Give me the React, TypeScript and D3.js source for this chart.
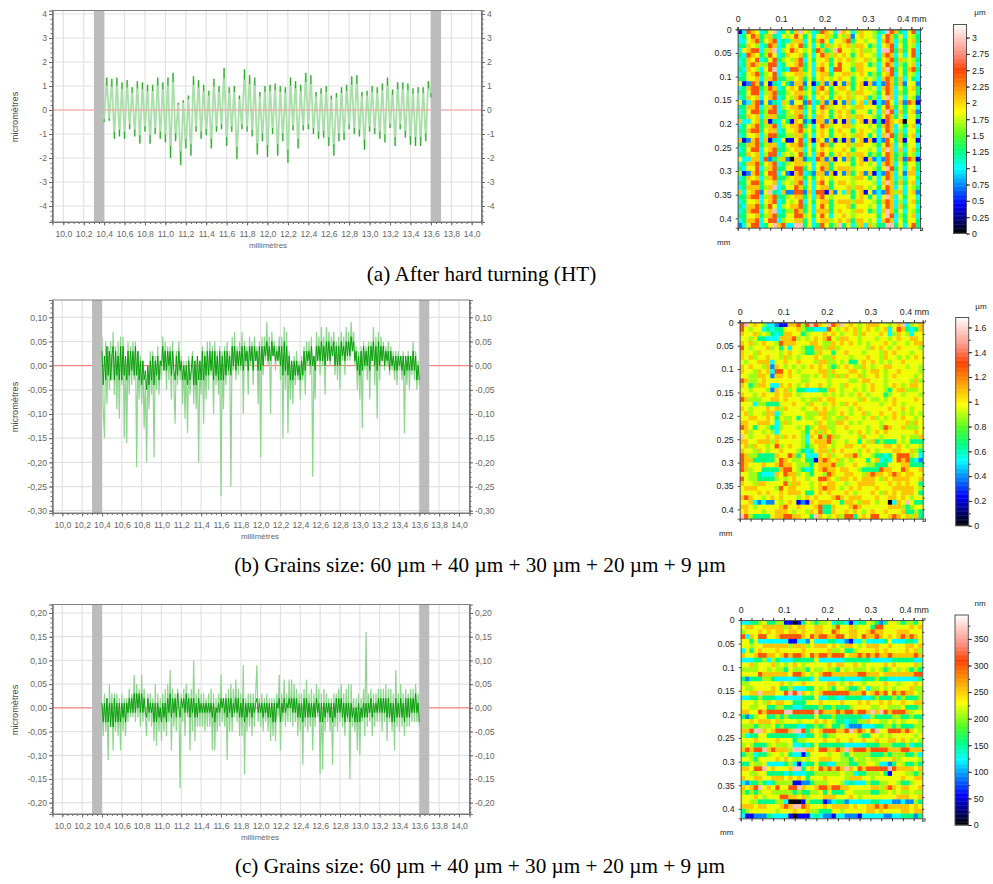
import { useEffect, useRef } from 'react';
import * as d3 from 'd3';

// profile (a): alternating crests and valleys, micrometres, one every 0.025 mm from 10.4 mm
const profileA = [
  -0.5, 1.35, -0.45, 1.3, -1.2, 1.35, -1.1, 1.15, -1.2, 1.25, -0.8, 0.95, -1.1, 1.2, -1.4, 1.15,
  -0.9, 1.05, -1.4, 1.05, -1.0, 1.35, -1.2, 1.15, -1.35, 1.35, -2.0, 1.55, -1.3, 0.3, -2.3, 0.4,
  -1.6, 0.6, -1.9, 1.4, -0.9, 1.25, -1.2, 1.05, -1.05, 0.8, -1.6, 1.3, -0.9, 1.0, -0.8, 1.75,
  -1.5, 0.95, -0.9, 1.0, -2.05, 0.6, -0.8, 1.7, -0.9, 1.45, -1.1, 1.35, -1.85, 0.75, -1.3, 1.0,
  -1.95, 1.05, -1.0, 1.1, -1.9, 1.0, -1.3, 0.95, -2.2, 1.35, -0.85, 1.2, -1.6, 1.05, -0.85, 1.55,
  -0.8, 1.45, -1.0, 0.75, -1.2, 0.9, -1.15, 1.0, -1.5, 0.6, -1.9, 0.7, -1.3, 0.95, -1.25, 1.05,
  -0.8, 1.4, -1.0, 1.45, -1.1, 0.75, -1.65, 0.8, -0.9, 1.0, -1.0, 0.95, -1.2, 1.1, -1.35, 1.35,
  -0.75, 0.85, -1.5, 1.15, -0.8, 1.15, -1.15, 1.1, -1.45, 0.9, -1.5, 0.95, -1.5, 0.95, -1.3, 1.2, 0.7,
];

// profile (b): hundredths of a micrometre, one every 0.0125 mm from 10.4 mm
const profileB = [
  6, -9, -15, 5, -8, 4, -5, 5, -3, 7, -6, 4, -9, 5, -11, 6,
  -4, 6, -15, 2, -16, 5, -6, 4, -4, 5, -3, 5, -21, 3, -7, 2,
  -8, 1, -13, -3, -20, 0, -9, 3, -6, 3, -19, 2, -5, 4, -6, 1,
  -3, 6, -1, 5, -5, 4, -3, 4, -7, 5, -4, -12, 3, -4, 5, -3,
  2, -8, 1, -11, 1, -14, 2, -6, -2, 3, -8, 1, -9, 2, -20, 1,
  -6, 4, -12, 3, -7, 5, -5, 5, -2, 4, -10, 5, -4, 3, -6, 4,
  -27, 3, -9, 4, -4, 5, -2, 3, -25, 6, -1, 7, -3, 4, -2, 5,
  -1, 7, -10, 5, 0, 4, -6, 6, 0, 5, -4, 6, 1, 4, -8, 5,
  -19, 6, -2, 6, 1, 9, 0, 6, -10, 7, 2, 5, -1, 4, 1, 6,
  -3, 6, -15, 8, -5, 7, -14, 3, -7, 1, -8, 2, -4, 3, -3, 1,
  -7, 2, -3, 4, -6, 5, 0, 5, -2, 6, -23, 2, -7, 7, 1, 6,
  -2, 8, 0, 6, -6, 8, 1, 7, 0, 6, 2, 7, -2, 5, -3, 6,
  -5, 7, 1, 6, -2, 8, 1, 7, 1, 9, 3, 7, 0, 4, -5, 3,
  -7, 4, -13, 5, -1, 4, -3, 5, -7, 5, 1, 8, -4, 6, -11, 7,
  -3, 6, 1, 5, -1, 4, 0, 5, -2, 4, -1, 3, -3, 3, -4, 3,
  -1, 2, -3, 3, -14, 2, -4, 3, -5, 2, -2, 5, -3, 3, -5, 1, -4,
];
const coreB = [
  3, -4, 2, -3, 4, -2, 3, -3, 2, 4, -3, 3, -2, 2, -3, 4,
  -3, 4, -2, 2, -3, 3, -2, 3, -1, 3, -2, 4, -2, 3, -3, 1,
  -4, 1, -3, -1, -5, 0, -4, 1, -3, 2, -4, 1, -2, 2, -3, 1,
  0, 4, -1, 3, -1, 3, 0, 3, -2, 3, -1, -3, 2, -2, 3, -1,
  1, -3, 0, -3, 0, -4, 1, -3, -1, 2, -4, 1, -4, 2, -3, 1,
  -3, 3, -3, 2, -2, 3, -2, 3, -1, 3, -3, 3, -2, 2, -3, 3,
  -3, 2, -3, 3, -2, 3, -1, 2, -2, 4, 0, 4, -1, 3, 0, 3,
  0, 4, -1, 4, 1, 3, -1, 4, 1, 4, -1, 4, 1, 3, -1, 4,
  -1, 4, 0, 4, 2, 5, 1, 4, 1, 5, 2, 4, 1, 3, 1, 4,
  0, 4, -2, 5, -1, 4, -2, 2, -3, 1, -3, 1, -2, 1, -2, 0,
  -3, 1, -2, 3, -1, 3, 1, 3, 0, 4, 0, 2, -1, 4, 1, 4,
  1, 5, 1, 4, 0, 5, 1, 5, 1, 4, 2, 5, 0, 4, 0, 4,
  0, 5, 2, 4, 1, 5, 2, 5, 2, 6, 3, 5, 1, 3, -1, 2,
  -2, 3, -1, 4, 0, 3, 0, 4, -1, 4, 1, 5, 0, 4, -1, 5,
  0, 4, 1, 4, 0, 3, 1, 3, -1, 3, 0, 2, -1, 2, -1, 2,
  0, 2, -1, 2, -2, 2, -1, 2, -1, 2, -1, 3, -1, 2, -3, 0, -3,
];

// profile (c): same sampling as (b)
const profileC = [
  1, -6, 3, -5, 2, -11, 5, -3, 3, -9, 3, -5, 3, -6, 2, -9,
  3, -5, 2, -6, 2, -3, 4, -2, 3, -2, 7, -3, 5, -2, 4, -4,
  7, -3, 4, -2, -6, 3, -3, 3, -4, 2, -7, 5, -8, 3, -5, 2,
  -7, 3, -5, 4, -6, 5, -3, 8, -9, 4, -4, 3, -5, 4, 2, -17,
  3, -3, 4, -6, 5, -2, 3, -9, 4, -5, 10, -7, 3, -4, 4, -4,
  3, -4, 3, -5, 2, -4, 3, -4, 4, -9, 3, -9, 2, -5, 3, -4,
  7, -3, 2, -4, 3, -11, 4, -5, 5, -5, 4, -2, 6, -3, 4, -6,
  3, -6, 9, -14, 2, -5, 3, -4, 3, -6, 3, -4, 3, 9, -3, 2,
  -4, 3, -5, 2, -3, 3, -5, 2, -7, 2, -6, 2, -7, 3, -2, 7,
  -9, 3, -3, 6, -4, 3, -3, 6, -3, 6, -4, 5, -3, 4, -6, 3,
  -5, 3, -12, 4, -4, 6, -5, 3, -4, 4, -9, 3, -4, 5, -2, 4,
  -14, 3, -13, 4, -5, 3, -3, 2, -5, 2, -12, 3, -4, 3, -5, 4,
  -3, 5, -4, 3, -6, 4, -3, 5, -15, 5, -4, 2, -5, 2, -9, 3,
  -10, 2, -3, 4, -6, 16, -4, 3, -3, 4, -6, 3, -4, 3, -3, 4,
  -3, 4, -5, 4, -3, 5, -7, 4, -3, 4, -5, 3, -9, 8, -4, 3,
  -5, 5, -4, 3, -6, 4, -4, 3, -4, 4, -3, 4, -3, 5, -3, 3, -4,
];
const coreC = [
  1, -3, 1, -3, 2, -3, 1, -4, 1, -4, 2, -3, 1, -3, 1, -3,
  1, -2, 1, -3, 1, -1, 2, -1, 2, -1, 3, -1, 3, 0, 3, -1,
  3, -1, 2, -1, -2, 2, -1, 1, -1, 1, -3, 1, -3, 1, -2, 0,
  -3, 1, -2, 1, -3, 2, -1, 3, -2, 2, -1, 2, -2, 3, 0, -2,
  2, 0, 2, -1, 3, -1, 2, -2, 2, -1, 2, -2, 1, -2, 2, -1,
  1, -1, 1, -1, 1, -1, 1, -1, 1, -2, 1, -3, 0, -1, 1, -1,
  2, 0, 2, -1, 2, -2, 2, -1, 2, -2, 1, -1, 2, -1, 2, -2,
  1, -2, 2, -3, 1, -2, 1, -1, 1, -2, 1, -1, 1, 2, -1, 1,
  -1, 1, -2, 1, -1, 1, -2, 1, -2, 1, -3, 1, -3, 1, 0, 2,
  -3, 1, -1, 2, -1, 1, 0, 2, 0, 2, -1, 2, -1, 2, -2, 1,
  -2, 1, -3, 2, -2, 2, -2, 1, -2, 1, -2, 1, -2, 2, -1, 1,
  -3, 1, -3, 1, -2, 1, -1, 1, -2, 1, -3, 1, -2, 2, -1, 2,
  -1, 2, -2, 1, -3, 1, -2, 1, -3, 1, -2, 0, -3, 0, -3, 1,
  -3, 0, -2, 1, -2, 1, -2, 1, -1, 2, -2, 1, -1, 1, -1, 2,
  -1, 2, -1, 2, -1, 2, -2, 2, -2, 1, -3, 1, -3, 2, -2, 1,
  -2, 2, -2, 1, -3, 2, -2, 2, -2, 2, -1, 2, -1, 3, -1, 1, -3,
];

// maps, one digit per cell: index into cellLevels (share of the colour bar)
const cellLevels = [0.01, 0.14, 0.23, 0.31, 0.39, 0.52, 0.57, 0.64, 0.76, 0.92];

const mapA = [
  '138763 469346 479653 487639 763576 654398 743683',
  '346874 574365 686463 667546 572676 653687 463654',
  '336784 678343 577364 786366 784665 663787 354674',
  '447653 487346 768463 647567 675776 453678 364653',
  '367883 579356 876564 874598 665675 563998 474683',
  '438764 586347 667463 687576 764676 653787 363683',
  '347683 468456 578364 667467 675667 564678 475654',
  '347875 588346 678463 676468 665776 453687 354673',
  '437653 689343 887463 786388 664776 663798 464784',
  '346784 568356 677563 677466 775676 454678 364653',
  '446673 578445 567464 676567 664665 653787 473643',
  '612872 614364 277261 472716 274671 723287 472662',
  '347884 587346 768463 786467 764676 563787 364674',
  '446883 578445 677564 767456 675776 654687 354664',
  '347673 678346 578463 676467 675667 453697 363652',
  '623782 624375 266283 472716 273673 713286 372871',
  '447783 578356 778463 687566 765776 664687 464663',
  '346884 588345 677364 676467 674666 463798 374672',
  '447673 577445 578463 776467 675776 654687 463664',
  '733674 714364 176241 772716 173671 714187 670661',
  '346784 578356 778463 687566 775666 564787 364673',
  '447884 677346 678564 676467 664676 653687 353664',
  '346673 588445 577463 676466 765776 463798 474673',
  '712783 714361 168371 762715 172671 713286 471661',
  '447784 577346 778463 687466 675776 654687 364663',
  '346883 678445 677364 676566 764666 563797 373674',
  '447673 588356 568463 786467 675776 454687 454653',
  '633773 824572 077243 872716 274671 723287 472871',
  '347784 678345 677563 677466 664676 563787 364664',
  '436683 578446 688463 687467 775666 654698 463674',
  '512784 688362 178342 772716 274672 713287 362773',
  '347673 578445 677464 676566 665776 463687 353664',
  '446884 667356 578363 786467 765666 653797 474673',
  '347774 579346 687463 677466 675776 564687 363654',
  '736782 694372 288273 881726 374671 623287 573672',
  '447883 578445 677463 786566 664676 463697 364663',
  '346673 678346 568364 677467 775776 654787 353674',
  '437784 586356 778463 686466 674666 563687 374663',
  '347883 679345 587463 777467 665776 453797 463654',
  '446674 578446 688564 686366 765666 664698 354673',
  '347783 688356 677463 677567 674776 563787 364664',
  '236883 469783 399463 486459 463573 754499 463684',
];

const mapB = [
  '896765 332117 785898 769879 676567 776656 793567',
  '865663 434466 675443 338656 767567 656736 874347',
  '766756 543477 664566 676765 667576 667635 765366',
  '665644 333777 856567 678657 766566 656656 766776',
  '767567 665877 766677 655767 676565 666765 665677',
  '865666 756463 665447 757756 666665 767656 766665',
  '766576 666567 665445 766466 766656 665767 666566',
  '767566 766575 656667 655766 656667 665766 565676',
  '656677 736676 676665 775565 644676 765656 676666',
  '767665 727656 565676 765456 765576 566776 665665',
  '766576 738867 656666 775766 677656 776566 766665',
  '665577 627767 665565 675575 766756 676567 666656',
  '875567 666666 665566 665666 655677 666566 666575',
  '764577 633767 656766 765665 766656 766567 656776',
  '665666 527675 644333 447765 665656 766546 775556',
  '766567 667677 656666 656565 656765 666456 656665',
  '875556 677676 665655 767766 666576 556567 666676',
  '666355 444666 766576 656765 767666 665667 656666',
  '765666 767576 665667 676566 656766 666676 676566',
  '675665 773566 666555 775567 656675 667667 656565',
  '667766 764655 646556 675655 766656 756567 676656',
  '776677 763575 666665 765577 656566 665666 667576',
  '876466 543566 656456 775566 766665 665876 675556',
  '675665 653666 665467 576566 656765 676766 666676',
  '965666 767576 765376 858756 666576 665666 656557',
  '776677 757666 665367 778566 566465 745444 656444',
  '675766 568567 665456 776566 776676 666776 765665',
  '766576 566766 654346 775767 666567 656667 766754',
  '875544 447668 746333 767566 778566 544346 888563',
  '877444 446876 556441 787675 656664 673436 878432',
  '876667 667877 655546 777855 667665 544466 677444',
  '875664 444788 654346 787767 766544 448776 687667',
  '665543 337687 756546 658766 776657 877678 767766',
  '865544 445656 766566 887657 767677 765767 777667',
  '766577 666685 776656 767766 566777 766676 767664',
  '677766 665867 766656 787765 676766 676667 777765',
  '666676 766767 776446 767666 765666 765767 677764',
  '787665 676766 656767 666787 677766 676677 676566',
  '667323 226567 612176 777664 776577 656603 769644',
  '776566 666786 676667 844766 678766 666677 754566',
  '676665 667776 566576 844766 767656 766766 674454',
  '985444 467788 776649 765675 884676 886678 767574',
];

const mapC = [
  '334456 445511 014654 556344 313446 542466 545546',
  '677667 777757 677667 766586 675666 488666 666767',
  '566676 767767 767667 766876 677667 877666 777666',
  '837688 667888 887687 887788 677687 787676 787876',
  '664633 333331 133263 334433 213353 333463 334436',
  '665667 777775 777567 776765 776567 776676 667767',
  '364676 667666 667666 667556 445666 676766 667675',
  '766788 776787 887687 887888 677878 787787 777787',
  '333445 354333 444446 333333 444444 333334 444433',
  '667566 675656 765666 667677 667656 666767 666675',
  '555566 565546 555465 565546 565556 565456 565454',
  '666687 777776 887656 788777 777887 776777 777788',
  '424445 543333 344436 333334 333344 454433 333334',
  '556666 666765 667666 667765 676656 666766 566676',
  '655666 676445 333446 565466 544563 556565 666755',
  '667797 776689 897656 788888 877786 787868 787765',
  '334454 443333 334446 334433 444433 454445 454445',
  '666565 767766 444666 766667 666767 667676 676677',
  '665566 445544 334444 544544 456666 556655 564445',
  '776687 888899 888889 877787 887887 979878 887566',
  '424566 445454 444446 444544 444433 544445 544544',
  '667677 767566 656667 676544 344557 665565 656665',
  '555455 564544 433445 456445 322233 344554 544455',
  '778997 678887 998476 788877 897876 896688 878765',
  '534466 444444 433446 545566 666544 665656 666656',
  '666766 667666 455666 676676 676676 676677 676565',
  '565444 565556 334346 444444 333334 445554 445344',
  '787889 787775 999776 887787 978887 888877 788777',
  '455344 566564 331466 665665 465555 444545 554453',
  '665466 667676 556566 777665 546556 556667 566665',
  '446556 333345 313446 443355 544556 653324 654454',
  '776889 676667 994676 878787 976878 888898 777767',
  '665566 444434 333445 555556 553445 556416 665545',
  '766776 677767 676466 676666 577766 566666 676677',
  '324454 345555 112245 556665 343335 445566 544566',
  '767896 768668 897667 887887 766666 775787 677667',
  '545456 655555 454455 646444 665555 445565 655655',
  '666765 666887 767566 677766 676566 666666 777667',
  '665544 445530 001544 412344 233333 443332 232254',
  '777677 666787 998766 676777 767667 787877 777676',
  '456666 665666 766755 444665 666667 767666 677677',
  '311222 433331 011134 322133 222133 333223 344424',
];

const xTicks = [10, 10.2, 10.4, 10.6, 10.8, 11, 11.2, 11.4, 11.6, 11.8, 12, 12.2, 12.4, 12.6, 12.8, 13, 13.2, 13.4, 13.6, 13.8, 14];
const yTicksA = [-4, -3, -2, -1, 0, 1, 2, 3, 4];
const yTicksB = [-0.3, -0.25, -0.2, -0.15, -0.1, -0.05, 0, 0.05, 0.1];
const yTicksC = [-0.2, -0.15, -0.1, -0.05, 0, 0.05, 0.1, 0.15, 0.2];
const mapTicksX = [0, 0.1, 0.2, 0.3, 0.4];
const mapTicksY = [0, 0.05, 0.1, 0.15, 0.2, 0.25, 0.3, 0.35, 0.4];
const barTicksA = [0, 0.25, 0.5, 0.75, 1, 1.25, 1.5, 1.75, 2, 2.25, 2.5, 2.75, 3];
const barTicksB = [0, 0.2, 0.4, 0.6, 0.8, 1, 1.2, 1.4, 1.6];
const barTicksC = [0, 50, 100, 150, 200, 250, 300, 350];

const captionA = '(a) After hard turning (HT)';
const captionB = '(b) Grains size: 60 µm + 40 µm + 30 µm + 20 µm + 9 µm';
const captionC = '(c) Grains size: 60 µm + 40 µm + 30 µm + 20 µm + 9 µm';

const colourStops = [0, 0.14, 0.31, 0.39, 0.47, 0.58, 0.68, 0.78, 0.86, 1];
const colourNames = ['#000000', '#0000ff', '#00ffff', '#00ff80', '#50ff20', '#ffff00', '#ffa000', '#ff4000', '#ff9080', '#ffffff'];
const mapColour = d3.scaleLinear<string>().domain(colourStops).range(colourNames);

const SANS = '"Liberation Sans", Arial, sans-serif';
const GREY = '#666';

function drawProfile(root: any, o: any) {
  const x = d3.scaleLinear().domain([10, 14]).range(o.xr);
  const y = d3.scaleLinear().domain(o.yd).range(o.yr);
  const g = root.append('g');

  // plot area bounds in data units, for the fine tick marks
  const x0 = x.invert(o.left), x1 = x.invert(o.right);
  const y0 = y.invert(o.bottom), y1 = y.invert(o.top);

  g.append('g').selectAll('line').data(xTicks).join('line')
    .attr('x1', (d: number) => x(d)).attr('x2', (d: number) => x(d))
    .attr('y1', o.top).attr('y2', o.bottom)
    .attr('stroke', '#e2e2e2').attr('stroke-width', 1.2);
  g.append('g').selectAll('line').data(o.yTicks).join('line')
    .attr('x1', o.left).attr('x2', o.right)
    .attr('y1', (d: number) => y(d)).attr('y2', (d: number) => y(d))
    .attr('stroke', '#e2e2e2').attr('stroke-width', 1.2);

  // excluded end zones
  g.append('g').selectAll('rect').data([10.3, 13.6]).join('rect')
    .attr('x', (d: number) => x(d)).attr('width', (d: number) => x(d + 0.1) - x(d))
    .attr('y', o.top).attr('height', o.bottom - o.top)
    .attr('fill', '#bcbcbc');

  const red = () => g.append('g').selectAll('line')
    .data([[x0, 10.3], [10.4, 13.6], [13.7, x1]]).join('line')
    .attr('x1', (d: number[]) => x(d[0])).attr('x2', (d: number[]) => x(d[1]))
    .attr('y1', y(0)).attr('y2', y(0))
    .attr('stroke', o.redColour).attr('stroke-width', 1);

  if (!o.redOnTop) red();

  const trace = (vals: number[], step: number, k: number) =>
    d3.line<number>().x((_, i) => x(10.4 + i * step)).y(d => y(d * k))(vals);

  const ink = g.append('g').attr('filter', 'url(#soft)');

  ink.append('path').attr('d', trace(o.profile, o.step, o.k))
    .attr('fill', 'none').attr('stroke', o.paleColour).attr('stroke-width', o.paleWidth);

  if (o.core) {
    ink.append('path').attr('d', trace(o.core, o.step, o.k))
      .attr('fill', 'none').attr('stroke', '#009a00').attr('stroke-width', 0.9);
  } else {
    // the pen lingers on crests and valleys, which reads darker
    ink.append('g').selectAll('line').data(o.profile).join('line')
      .attr('x1', (_: number, i: number) => x(10.4 + i * o.step))
      .attr('x2', (_: number, i: number) => x(10.4 + i * o.step))
      .attr('y1', (d: number) => y(d))
      .attr('y2', (d: number) => y(d * 0.75))
      .attr('stroke', '#22a822').attr('stroke-width', 1);
  }

  if (o.redOnTop) red();

  // frame
  g.append('rect')
    .attr('x', o.left).attr('y', o.top).attr('width', o.right - o.left).attr('height', o.bottom - o.top)
    .attr('fill', 'none').attr('stroke', '#808080');

  const fmt = (d: number) => o.digits === 0
    ? d3.format('d')(d).replace('−', '-')
    : d3.format(`.${o.digits}f`)(d).replace('.', ',').replace('−', '-');

  const style = (a: any) => {
    a.select('.domain').attr('stroke', '#777');
    a.selectAll('.tick line').attr('stroke', '#666');
    a.selectAll('.tick text').attr('fill', GREY).attr('font-family', SANS).attr('font-size', 8.6);
    return a;
  };

  const minorX = d3.range(10, 14.03, 0.05).filter(d => d > x0 && d < x1);
  const minorY = d3.range(o.yd[0] - o.minor * 10, o.yd[1] + o.minor * 10, o.minor).filter(d => d > y0 && d < y1);
  const xs = x.copy().domain([x0, x1]).range([o.left, o.right]);
  const ys = y.copy().domain([y0, y1]).range([o.bottom, o.top]);

  const bottomAt = `translate(0,${o.bottom})`;
  g.append('g').attr('transform', bottomAt)
    .call(d3.axisBottom(xs).tickValues(minorX).tickSize(2).tickFormat(() => ''))
    .call(style);
  g.append('g').attr('transform', bottomAt)
    .call(d3.axisBottom(xs).tickValues(xTicks).tickSize(3.5).tickPadding(5).tickFormat((d: any) => d3.format('.1f')(d).replace('.', ',')))
    .call(style);

  g.append('g').attr('transform', `translate(${o.left},0)`)
    .call(d3.axisLeft(ys).tickValues(minorY).tickSize(2).tickFormat(() => ''))
    .call(style);
  g.append('g').attr('transform', `translate(${o.left},0)`)
    .call(d3.axisLeft(ys).tickValues(o.yTicks).tickSize(3.5).tickPadding(2).tickFormat(fmt))
    .call(style);
  g.append('g').attr('transform', `translate(${o.right},0)`)
    .call(d3.axisRight(ys).tickValues(minorY).tickSize(2).tickFormat(() => ''))
    .call(style);
  g.append('g').attr('transform', `translate(${o.right},0)`)
    .call(d3.axisRight(ys).tickValues(o.yTicks).tickSize(3.5).tickPadding(2).tickFormat(fmt))
    .call(style);

  g.append('text').text('millimètres')
    .attr('x', o.xLabel[0]).attr('y', o.xLabel[1]).attr('text-anchor', 'middle')
    .attr('fill', GREY).attr('font-family', SANS).attr('font-size', 8);
  g.append('text').text('micromètres')
    .attr('transform', `translate(17.5,${o.yLabel}) rotate(-90)`).attr('text-anchor', 'middle')
    .attr('fill', '#444').attr('font-family', SANS).attr('font-size', 9.2);
}

function drawMap(root: any, o: any) {
  const rows: string[][] = o.rows.map((r: string) => r.replace(/ /g, '').split(''));
  const g = root.append('g');
  const cols = d3.range(rows[0].length);
  const xb = d3.scaleBand<number>().domain(cols).range([o.left, o.right]);
  const yb = d3.scaleBand<number>().domain(d3.range(rows.length)).range([o.top, o.bottom]);

  g.append('g').selectAll('g').data(rows).join('g')
    .attr('transform', (_: any, i: number) => `translate(0,${yb(i)})`)
    .selectAll('rect').data((d: string[]) => d).join('rect')
    .attr('x', (_: any, i: number) => xb(i))
    .attr('width', xb.bandwidth() + 0.3)
    .attr('height', yb.bandwidth() + 0.3)
    .attr('fill', (d: string) => mapColour(cellLevels[+d]));

  const x = d3.scaleLinear().domain([0, 0.42]).range([o.left, o.right]);
  const y = d3.scaleLinear().domain([0, 0.42]).range([o.top, o.bottom]);
  const fine = d3.range(0, 0.426, 0.025);

  const style = (a: any) => {
    a.select('.domain').attr('stroke', '#555');
    a.selectAll('.tick line').attr('stroke', '#333');
    a.selectAll('.tick text').attr('fill', '#222').attr('font-family', SANS).attr('font-size', 8.8);
    return a;
  };
  const label = (d: any) => d3.format('')(+d.toFixed(2));

  g.append('g').attr('transform', `translate(0,${o.top})`)
    .call(d3.axisTop(x).tickValues(fine).tickSize(2).tickFormat(() => '')).call(style);
  g.append('g').attr('transform', `translate(0,${o.top})`)
    .call(d3.axisTop(x).tickValues(mapTicksX).tickSize(2).tickPadding(5)
      .tickFormat((d: any) => d === 0.4 ? '0.4 mm' : label(d))).call(style);
  g.append('g').attr('transform', `translate(0,${o.bottom})`)
    .call(d3.axisBottom(x).tickValues(fine).tickSize(3).tickFormat(() => '')).call(style);
  g.append('g').attr('transform', `translate(${o.left},0)`)
    .call(d3.axisLeft(y).tickValues(mapTicksY).tickSize(2).tickPadding(4).tickFormat(label)).call(style);
  g.append('g').attr('transform', `translate(${o.right},0)`)
    .call(d3.axisRight(y).tickValues(fine).tickSize(2).tickFormat(() => '')).call(style);

  g.append('text').text('mm')
    .attr('x', o.left - 14).attr('y', o.bottom + 17).attr('text-anchor', 'middle')
    .attr('fill', '#222').attr('font-family', SANS).attr('font-size', 8);

  // colour bar
  const bar = d3.scaleLinear().domain([0, o.barMax]).range([o.barBottom, o.barTop]);
  const steps = d3.range(0, 1, 1 / 160);
  g.append('g').selectAll('rect').data(steps).join('rect')
    .attr('x', o.barLeft).attr('width', o.barRight - o.barLeft)
    .attr('y', (d: number) => bar((d + 1 / 160) * o.barMax))
    .attr('height', (o.barBottom - o.barTop) / 160 + 0.4)
    .attr('fill', (d: number) => mapColour(d));
  g.append('rect')
    .attr('x', o.barLeft).attr('y', o.barTop)
    .attr('width', o.barRight - o.barLeft).attr('height', o.barBottom - o.barTop)
    .attr('fill', 'none').attr('stroke', '#555');

  const barAxis = `translate(${o.barRight},0)`;
  g.append('g').attr('transform', barAxis)
    .call(d3.axisRight(bar).tickValues(o.barFine).tickSize(2).tickFormat(() => '')).call(style);
  g.append('g').attr('transform', barAxis)
    .call(d3.axisRight(bar).tickValues(o.barTicks).tickSize(3.5).tickPadding(2).tickFormat((d: any) => d3.format('')(d))).call(style);
  g.selectAll('.domain').filter(function (this: any) {
    return this.parentNode.getAttribute('transform') === barAxis;
  }).remove();

  g.append('text').text(o.unit)
    .attr('x', o.unitAt[0]).attr('y', o.unitAt[1]).attr('text-anchor', 'middle')
    .attr('fill', '#222').attr('font-family', SANS).attr('font-size', 8);
}

const App = () => {
  const svgRef = useRef<SVGSVGElement>(null);

  useEffect(() => {
    const svg = d3.select(svgRef.current);
    svg.selectAll('*').remove();

    svg.append('defs').append('filter').attr('id', 'soft')
      .append('feGaussianBlur').attr('stdDeviation', 0.3);

    drawProfile(svg, {
      profile: profileA, step: 0.025, k: 1, digits: 0, yTicks: yTicksA,
      yd: [-4, 4], yr: [206, 14], xr: [63.3, 471.7],
      left: 52.5, right: 481.5, top: 10.5, bottom: 222,
      minor: 0.2, redColour: '#ff9a9a', redOnTop: true,
      paleColour: '#a9e0a9', paleWidth: 1.8,
      xLabel: [268, 248], yLabel: 117,
    });
    drawProfile(svg, {
      profile: profileB, core: coreB, step: 0.0125, k: 0.01, digits: 2, yTicks: yTicksB,
      yd: [-0.3, 0.1], yr: [510.7, 317.3], xr: [62.3, 459],
      left: 52.5, right: 469.5, top: 300, bottom: 513,
      minor: 0.01, redColour: '#ff7070', redOnTop: false,
      paleColour: '#8ed68e', paleWidth: 1.2,
      xLabel: [260, 539], yLabel: 407,
    });
    drawProfile(svg, {
      profile: profileC, core: coreC, step: 0.0125, k: 0.01, digits: 2, yTicks: yTicksC,
      yd: [-0.2, 0.2], yr: [802.7, 613], xr: [62.3, 459],
      left: 52.5, right: 469.5, top: 604.5, bottom: 814,
      minor: 0.01, redColour: '#ff7070', redOnTop: false,
      paleColour: '#8ed68e', paleWidth: 1.2,
      xLabel: [260, 840], yLabel: 710,
    });

    drawMap(svg, {
      rows: mapA, left: 737.7, right: 920, top: 29.3, bottom: 227.7,
      barLeft: 953.5, barRight: 966.5, barTop: 24.5, barBottom: 233.5, barMax: 3.2,
      barTicks: barTicksA, barFine: barTicksA, unit: 'µm', unitAt: [980, 15],
    });
    drawMap(svg, {
      rows: mapB, left: 739.7, right: 922.7, top: 322.3, bottom: 518.7,
      barLeft: 955.7, barRight: 968.7, barTop: 317.5, barBottom: 525.7, barMax: 1.68,
      barTicks: barTicksB, barFine: d3.range(0, 1.65, 0.1), unit: 'µm', unitAt: [981, 309],
    });
    drawMap(svg, {
      rows: mapC, left: 740.7, right: 922.3, top: 620, bottom: 818.3,
      barLeft: 955, barRight: 968.3, barTop: 615, barBottom: 825, barMax: 395,
      barTicks: barTicksC, barFine: d3.range(0, 390, 25), unit: 'nm', unitAt: [980, 606],
    });

    svg.append('g').selectAll('text')
      .data([[captionA, 481.5, 281], [captionB, 480, 572], [captionC, 480, 873]])
      .join('text')
      .text((d: any) => d[0])
      .attr('x', (d: any) => d[1]).attr('y', (d: any) => d[2])
      .attr('text-anchor', 'middle')
      .attr('fill', '#000')
      .attr('font-family', '"Liberation Serif", "Times New Roman", serif')
      .attr('font-size', 21.2);
  }, []);

  return (
    <svg
      ref={svgRef}
      width={993}
      height={884}
      style={{ position: 'absolute', left: 0, top: 0, background: '#fff' }}
    />
  );
};

export default App;
